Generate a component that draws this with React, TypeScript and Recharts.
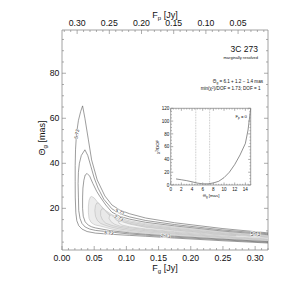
import React from "react";
import { ScatterChart, Scatter, XAxis, YAxis, ReferenceLine } from "recharts";

const FONT = "'Liberation Sans', Arial, Helvetica, sans-serif";
const INK = "#111";
const FRAME = "#8a8a8a";

// main panel ticks
const FG_MAJOR = [0, 0.05, 0.1, 0.15, 0.2, 0.25, 0.3];
const FG_MINOR = [0.01, 0.02, 0.03, 0.04, 0.06, 0.07, 0.08, 0.09, 0.11, 0.12, 0.13, 0.14, 0.16, 0.17, 0.18, 0.19, 0.21, 0.22, 0.23, 0.24, 0.26, 0.27, 0.28, 0.29, 0.31, 0.32];
const FP_MAJOR = [0.05, 0.1, 0.15, 0.2, 0.25, 0.3];
const FP_MINOR = [0.01, 0.02, 0.03, 0.04, 0.06, 0.07, 0.08, 0.09, 0.11, 0.12, 0.13, 0.14, 0.16, 0.17, 0.18, 0.19, 0.21, 0.22, 0.23, 0.24, 0.26, 0.27, 0.28, 0.29, 0.31, 0.32];
const THETA_MAJOR = [20, 40, 60, 80];
const THETA_MINOR = [5, 10, 15, 25, 30, 35, 45, 50, 55, 65, 70, 75, 85, 90, 95];
const F_TOTAL = 0.3235; // Fp = F_TOTAL - Fg

// chi2 contours in (Fg [Jy], Θg [mas]); dark = labelled levels, gray = inner levels
const CONTOUR_A: [number, number][] = [
  [0.32, 4.6], [0.25, 5.6], [0.175, 6.8], [0.13, 7.6], [0.105, 8.0], [0.075, 8.5], [0.052, 9.0], [0.039, 9.7],
  [0.031, 10.8], [0.026, 12.3], [0.023, 14.5], [0.0215, 18], [0.0206, 25], [0.0205, 32], [0.0205, 39], [0.021, 46],
  [0.0225, 53], [0.0255, 59], [0.029, 63], [0.032, 65.5], [0.0356, 60], [0.041, 50.4], [0.046, 41.5], [0.0547, 32.6],
  [0.0666, 25.5], [0.0775, 21.5], [0.09, 19.2], [0.105, 17.6], [0.13, 15.7], [0.175, 13.6], [0.25, 11.0], [0.32, 9.1],
];
const CONTOUR_B: [number, number][] = [
  [0.32, 4.9], [0.25, 6.0], [0.175, 7.2], [0.13, 8.1], [0.105, 8.6], [0.075, 9.5], [0.052, 10.2], [0.043, 10.8],
  [0.036, 11.7], [0.031, 13.3], [0.028, 15.5], [0.026, 19], [0.0255, 25], [0.025, 31], [0.0255, 36], [0.027, 40],
  [0.03, 43.5], [0.0356, 46], [0.04, 43.5], [0.045, 38.5], [0.05, 33.5], [0.056, 29], [0.065, 24], [0.0775, 19.8],
  [0.09, 17.6], [0.105, 16.2], [0.13, 14.6], [0.175, 12.8], [0.25, 10.4], [0.32, 8.7],
];
const CONTOUR_C: [number, number][] = [
  [0.32, 5.2], [0.25, 6.3], [0.175, 7.6], [0.13, 8.5], [0.105, 9.1], [0.075, 10.1], [0.052, 11.3], [0.046, 11.8],
  [0.041, 12.5], [0.036, 14], [0.033, 16.5], [0.032, 20], [0.032, 25], [0.0325, 29], [0.034, 32.5], [0.036, 34.8],
  [0.039, 35.5], [0.043, 34.3], [0.048, 31], [0.054, 27.5], [0.059, 25.2], [0.068, 21.5], [0.0775, 18.3], [0.09, 16.4],
  [0.105, 15.2], [0.13, 13.8], [0.175, 12.2], [0.25, 9.9], [0.32, 8.3],
];
const GRAY_1: [number, number][] = [
  [0.32, 5.5], [0.25, 6.6], [0.175, 8.0], [0.13, 9.0], [0.105, 9.6], [0.09, 10.1], [0.0775, 10.8], [0.068, 11.5],
  [0.06, 12.1], [0.052, 12.6], [0.049, 13], [0.045, 13.8], [0.042, 15.5], [0.041, 18], [0.041, 21], [0.042, 23.5],
  [0.044, 25], [0.046, 25.3], [0.05, 24.6], [0.054, 23.2], [0.06, 21.2], [0.068, 19], [0.0775, 17.2], [0.09, 15.6],
  [0.105, 14.5], [0.13, 13.2], [0.175, 11.7], [0.25, 9.5], [0.32, 7.9],
];
const GRAY_2: [number, number][] = [
  [0.32, 5.8], [0.25, 7.0], [0.175, 8.5], [0.13, 9.5], [0.105, 10.2], [0.09, 10.8], [0.0775, 11.6], [0.068, 12.4],
  [0.06, 13.3], [0.055, 14.6], [0.052, 16.5], [0.051, 19], [0.052, 21.2], [0.054, 22.4], [0.057, 22.3], [0.061, 21],
  [0.068, 18.4], [0.0775, 16.4], [0.09, 14.9], [0.105, 13.9], [0.13, 12.7], [0.175, 11.2], [0.25, 9.1], [0.32, 7.6],
];
const GRAY_3: [number, number][] = [
  [0.32, 6.1], [0.25, 7.3], [0.175, 8.9], [0.13, 10.05], [0.105, 10.8], [0.09, 11.5], [0.0775, 12.4], [0.068, 13.4],
  [0.063, 14.8], [0.06, 16.8], [0.06, 18.8], [0.062, 19.8], [0.065, 19.7], [0.069, 18.4], [0.0775, 15.8], [0.09, 14.2],
  [0.105, 13.3], [0.13, 12.15], [0.175, 10.8], [0.25, 8.8], [0.32, 7.3],
];
const GRAY_4: [number, number][] = [
  [0.32, 6.4], [0.25, 7.65], [0.175, 9.3], [0.13, 10.5], [0.105, 11.4], [0.09, 12.1], [0.082, 12.9], [0.076, 14.1],
  [0.073, 15.6], [0.074, 16.8], [0.077, 17.1], [0.08, 16.1], [0.085, 14.7], [0.09, 13.8], [0.105, 12.8], [0.13, 11.7],
  [0.175, 10.4], [0.25, 8.45], [0.32, 7.0],
];
const GRAY_5: [number, number][] = [
  [0.27, 7.85], [0.25, 8.1], [0.175, 9.65], [0.13, 10.85], [0.105, 11.8], [0.093, 12.6], [0.088, 13.5], [0.089, 14.3],
  [0.094, 14.0], [0.105, 13.0], [0.13, 11.55], [0.175, 10.15], [0.25, 8.35], [0.27, 8.05], [0.27, 7.85],
];

const LABEL_TEXT = ["5.73", "5.73", "2.73", "5.73", "2.73", "5.73"];
const LABEL_FG = [0.0232, 0.0899, 0.0883, 0.0728, 0.161, 0.3005];
const LABEL_THETA = [53, 18.4, 15.7, 9.0, 7.7, 8.6];
const LABEL_ANGLE = [-79, 23, 23, 8, 5, 0];

// inset: chi2/DOF vs Θg for Fp = 0
const INSET_THETA = [1, 2, 3, 4, 5, 6, 7, 8, 9, 10, 11, 12, 13, 14, 14.5, 15];
const INSET_CHI2 = [9.5, 8.2, 6.8, 5.0, 3.0, 1.8, 1.8, 3.2, 5.8, 11.5, 20, 32, 47, 65, 86, 120];
const INSET_X_MAJOR = [0, 2, 4, 6, 8, 10, 12, 14];
const INSET_X_MINOR = [0.5, 1, 1.5, 2.5, 3, 3.5, 4.5, 5, 5.5, 6.5, 7, 7.5, 8.5, 9, 9.5, 10.5, 11, 11.5, 12.5, 13, 13.5, 14.5, 15];
const INSET_Y_MAJOR = [0, 20, 40, 60, 80, 100, 120];
const INSET_Y_MINOR = [5, 10, 15, 25, 30, 35, 45, 50, 55, 65, 70, 75, 85, 90, 95, 105, 110, 115];
const THETA_LOW = 4.7;
const THETA_HIGH = 7.3;

const toPts = (c: [number, number][]) => c.map(([x, y]) => ({ x, y }));

type Side = "bottom" | "top" | "left" | "right";

function makeTick(side: Side, majors: number[], major: number, minor: number, font: number, fmt?: (v: number) => string) {
  return function Tick(props: any) {
    const { x, y, payload } = props;
    const v = payload.value as number;
    const isMajor = majors.some((m) => Math.abs(m - v) < 1e-9);
    const len = isMajor ? major : minor;
    let x2 = x, y2 = y;
    if (side === "bottom") y2 = y - len;
    if (side === "top") y2 = y + len;
    if (side === "left") x2 = x + len;
    if (side === "right") x2 = x - len;
    let label = null;
    if (isMajor && fmt) {
      const txt = fmt(v);
      if (side === "bottom")
        label = <text x={x} y={y + font * 1.32} textAnchor="middle" fontSize={font} fill={INK} fontFamily={FONT}>{txt}</text>;
      if (side === "top")
        label = <text x={x} y={y - font * 0.46} textAnchor="middle" fontSize={font} fill={INK} fontFamily={FONT}>{txt}</text>;
      if (side === "left")
        label = <text x={x - font * 0.3} y={y + font * 0.36} textAnchor="end" fontSize={font} fill={INK} fontFamily={FONT}>{txt}</text>;
    }
    return (
      <g>
        <line x1={x} y1={y} x2={x2} y2={y2} stroke={FRAME} strokeWidth={0.7} />
        {label}
      </g>
    );
  };
}

const noShape = () => <g />;

function ContourLabel(p: any) {
  const { cx, cy, payload } = p;
  return (
    <text
      x={cx}
      y={cy}
      transform={`rotate(${payload.angle} ${cx} ${cy})`}
      textAnchor="middle"
      dominantBaseline="central"
      fontSize={4.8}
      fontFamily={FONT}
      fill="#333"
      stroke="#fff"
      strokeWidth={1}
      paintOrder="stroke"
    >
      {payload.text}
    </text>
  );
}

const axisCommon = {
  type: "number" as const,
  tickLine: false,
  tickSize: 0,
  tickMargin: 0,
  interval: 0 as const,
  allowDataOverflow: true,
  axisLine: { stroke: FRAME, strokeWidth: 0.8 },
};

export default function App() {
  const dark = [CONTOUR_A, CONTOUR_B, CONTOUR_C];
  const gray = [GRAY_1, GRAY_2, GRAY_3, GRAY_4, GRAY_5];
  const grayFill = ["#ededed", "#e6e6e6", "#e9e9e9", "#efefef", "#f6f6f6"];
  const labels = LABEL_TEXT.map((text, i) => ({ x: LABEL_FG[i], y: LABEL_THETA[i], text, angle: LABEL_ANGLE[i] }));
  const inset = INSET_THETA.map((x, i) => ({ x, y: INSET_CHI2[i] }));
  const fgTicks = [...FG_MAJOR, ...FG_MINOR];
  const fpTicks = [...FP_MAJOR, ...FP_MINOR];
  const thTicks = [...THETA_MAJOR, ...THETA_MINOR];
  const ixTicks = [...INSET_X_MAJOR, ...INSET_X_MINOR];
  const iyTicks = [...INSET_Y_MAJOR, ...INSET_Y_MINOR];
  const f2 = (v: number) => v.toFixed(2);
  const f0 = (v: number) => String(v);

  return (
    <div style={{ position: "absolute", left: 0, top: 0, width: 299, height: 294, background: "#fff", fontFamily: FONT }}>
      <ScatterChart width={299} height={294} margin={{ top: 0, right: 0, bottom: 0, left: 0 }}>
        <XAxis {...axisCommon} xAxisId="b" orientation="bottom" dataKey="x" height={44} domain={[0, 0.32]} ticks={fgTicks} tick={makeTick("bottom", FG_MAJOR, 4, 2, 8.7, f2)} />
        <XAxis {...axisCommon} xAxisId="t" orientation="top" dataKey="x" height={30} domain={[F_TOTAL - 0.32, F_TOTAL]} reversed ticks={fpTicks} tick={makeTick("top", FP_MAJOR, 4, 2, 8.7, f2)} />
        <YAxis {...axisCommon} yAxisId="l" orientation="left" dataKey="y" width={62} domain={[1.5, 99.2]} ticks={thTicks} tick={makeTick("left", THETA_MAJOR, 4, 2, 8.7, f0)} />
        <YAxis {...axisCommon} yAxisId="r" orientation="right" dataKey="y" width={31} domain={[1.5, 99.2]} ticks={thTicks} tick={makeTick("right", THETA_MAJOR, 4, 2, 8.7)} />
        {gray.map((c, i) => (
          <Scatter key={"g" + i} xAxisId="b" yAxisId="l" data={toPts(c)} shape={noShape} line={{ stroke: "#b8b8b8", strokeWidth: 0.55, fill: grayFill[i] }} isAnimationActive={false} />
        ))}
        {dark.map((c, i) => (
          <Scatter key={"d" + i} xAxisId="b" yAxisId="l" data={toPts(c)} shape={noShape} line={{ stroke: "#5a5a5a", strokeWidth: 0.6 }} isAnimationActive={false} />
        ))}
        <Scatter xAxisId="b" yAxisId="l" data={labels} shape={ContourLabel} isAnimationActive={false} />
      </ScatterChart>

      <div style={{ position: "absolute", left: 140, top: 100 }}>
        <ScatterChart width={115} height={105} margin={{ top: 0, right: 0, bottom: 0, left: 0 }}>
          <XAxis {...axisCommon} xAxisId="b" orientation="bottom" dataKey="x" height={20} domain={[0, 15]} ticks={ixTicks} tick={makeTick("bottom", INSET_X_MAJOR, 2.5, 1.2, 4.6, f0)} />
          <XAxis {...axisCommon} xAxisId="t" orientation="top" dataKey="x" height={8.3} domain={[0, 15]} ticks={ixTicks} tick={makeTick("top", INSET_X_MAJOR, 2.5, 1.2, 4.6)} />
          <YAxis {...axisCommon} yAxisId="l" orientation="left" dataKey="y" width={30.7} domain={[0, 120]} ticks={iyTicks} tick={makeTick("left", INSET_Y_MAJOR, 2.5, 1.2, 4.6, f0)} />
          <YAxis {...axisCommon} yAxisId="r" orientation="right" dataKey="y" width={4.3} domain={[0, 120]} ticks={iyTicks} tick={makeTick("right", INSET_Y_MAJOR, 2.5, 1.2, 4.6)} />
          <ReferenceLine xAxisId="b" yAxisId="l" x={THETA_LOW} stroke="#9a9a9a" strokeWidth={0.6} strokeDasharray="0.8 0.8" />
          <ReferenceLine xAxisId="b" yAxisId="l" x={THETA_HIGH} stroke="#9a9a9a" strokeWidth={0.6} strokeDasharray="0.8 0.8" />
          <Scatter xAxisId="b" yAxisId="l" data={inset} shape={noShape} line={{ stroke: "#444", strokeWidth: 0.6 }} isAnimationActive={false} />
        </ScatterChart>
      </div>

      {/* titles and annotations */}
      <svg width={299} height={294} style={{ position: "absolute", left: 0, top: 0, pointerEvents: "none" }} fontFamily={FONT} fill={INK}>
        <text x={165} y={17.5} fontSize={9} textAnchor="middle">
          F<tspan fontSize={6} dy={2}>p</tspan><tspan dy={-2}> [Jy]</tspan>
        </text>
        <text x={165} y={271} fontSize={9} textAnchor="middle">
          F<tspan fontSize={6} dy={2}>g</tspan><tspan dy={-2}> [Jy]</tspan>
        </text>
        <text x={45} y={138} fontSize={9} textAnchor="middle" transform="rotate(-90 45 138)">
          Θ<tspan fontSize={6} dy={2}>g</tspan><tspan dy={-2}> [mas]</tspan>
        </text>
        <text x={258} y={51.5} fontSize={8.5} textAnchor="end">3C 273</text>
        <text x={258} y={59} fontSize={4} textAnchor="end">marginally resolved</text>
        <text x={263} y={82.5} fontSize={4.6} textAnchor="end">
          Θ<tspan fontSize={3.2} dy={1}>g</tspan><tspan dy={-1}> =  6.1 +  1.2 −  1.4 mas</tspan>
        </text>
        <text x={260.5} y={90} fontSize={4.6} textAnchor="end">
          min(χ<tspan fontSize={3.2} dy={-1.5}>2</tspan><tspan dy={1.5}>)/DOF = 1.73; DOF =  1</tspan>
        </text>
        <text x={247} y={117.5} fontSize={4.3} textAnchor="end">
          F<tspan fontSize={3} dy={1}>p</tspan><tspan dy={-1}> = 0</tspan>
        </text>
        <text x={159} y={147} fontSize={4.3} textAnchor="middle" transform="rotate(-90 159 147)">
          χ<tspan fontSize={3} dy={-1.3}>2</tspan><tspan dy={1.3}>/DOF</tspan>
        </text>
        <text x={211} y={196.5} fontSize={4.3} textAnchor="middle">
          Θ<tspan fontSize={3} dy={1}>g</tspan><tspan dy={-1}> [mas]</tspan>
        </text>
      </svg>
    </div>
  );
}
